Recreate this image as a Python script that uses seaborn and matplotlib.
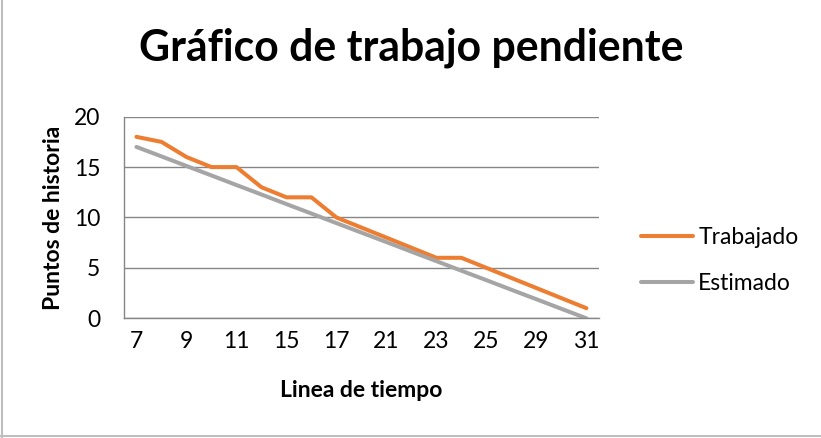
import matplotlib
matplotlib.use("Agg")
import matplotlib.pyplot as plt
import numpy as np
import pandas as pd
import seaborn as sns
from matplotlib.lines import Line2D

# ── Data ─────────────────────────────────────────────────────────────
dias = ["7", "8", "9", "10", "11", "14", "15", "16", "17", "18",
        "21", "22", "23", "24", "25", "28", "29", "30", "31"]
trabajado = [18, 17.5, 16, 15, 15, 13, 12, 12, 10, 9,
             8, 7, 6, 6, 5, 4, 3, 2, 1]
estimado = [17, 16.06, 15.11, 14.17, 13.22, 12.28, 11.33, 10.39, 9.44, 8.5,
            7.56, 6.61, 5.67, 4.72, 3.78, 2.83, 1.89, 0.94, 0]
y_ticks = [0, 5, 10, 15, 20]

ORANGE = "#ED7D31"
GRAY = "#A5A5A5"
AXIS = "#868686"

df = pd.DataFrame({
    "dia": dias * 2,
    "puntos": trabajado + estimado,
    "serie": ["Trabajado"] * len(dias) + ["Estimado"] * len(dias),
})

sns.set_style("white")
plt.rcParams["font.family"] = ["Lato", "DejaVu Sans"]
plt.rcParams.update({"text.color": "black", "axes.labelcolor": "black",
                     "xtick.labelcolor": "black", "ytick.labelcolor": "black"})

fig = plt.figure(figsize=(8.21, 4.38), dpi=100)
ax = fig.add_axes([0.151, 0.2733, 0.5785, 0.4603])

sns.lineplot(data=df, x="dia", y="puntos", hue="serie",
             palette={"Trabajado": ORANGE, "Estimado": GRAY},
             linewidth=2.9, ax=ax, legend=False, sort=False)

# axes styling (Excel look)
ax.set_xlim(-0.5, len(dias) - 0.5)
ax.set_ylim(0, 20)
ax.set_yticks(y_ticks)
ax.yaxis.grid(True, color=AXIS, linewidth=1)
ax.set_axisbelow(True)
for side in ["top", "right"]:
    ax.spines[side].set_visible(False)
for side in ["left", "bottom"]:
    ax.spines[side].set_color(AXIS)
    ax.spines[side].set_linewidth(1)

pos = np.arange(len(dias))
ax.set_xticks(pos[::2])
ax.set_xticklabels(dias[::2])
ax.set_xticks(np.arange(-0.5, len(dias)), minor=True)
ax.tick_params(axis="x", which="major", length=0, pad=9, labelsize=16.5)
ax.tick_params(axis="x", which="minor", length=6, color=AXIS, direction="out")
ax.tick_params(axis="y", length=6, color=AXIS, direction="out", pad=11, labelsize=16.5)

ax.set_xlabel("Linea de tiempo", fontsize=16.5, fontweight="bold", labelpad=20)
ax.set_ylabel("Puntos de historia", fontsize=16.5, fontweight="bold", labelpad=7)

fig.text(0.501, 0.89, "Gráfico de trabajo pendiente", ha="center", va="center",
         fontsize=30.8, fontweight="bold")

handles = [Line2D([], [], color=ORANGE, linewidth=2.9),
           Line2D([], [], color=GRAY, linewidth=2.9)]
fig.legend(handles, ["Trabajado", "Estimado"], loc="center left",
           bbox_to_anchor=(0.756, 0.405), frameon=False, fontsize=16.5,
           handlelength=2.27, handletextpad=0.22, labelspacing=1.12)

# chart border (left and bottom edges visible)
fig.add_artist(Line2D([0.003, 0.003], [0.0, 1.0], color="#BFBFBF", linewidth=1.5,
                      transform=fig.transFigure))
fig.add_artist(Line2D([0.0, 1.0], [0.004, 0.004], color="#BFBFBF", linewidth=1.5,
                      transform=fig.transFigure))

fig.savefig("out.png", dpi=100, facecolor="white")
